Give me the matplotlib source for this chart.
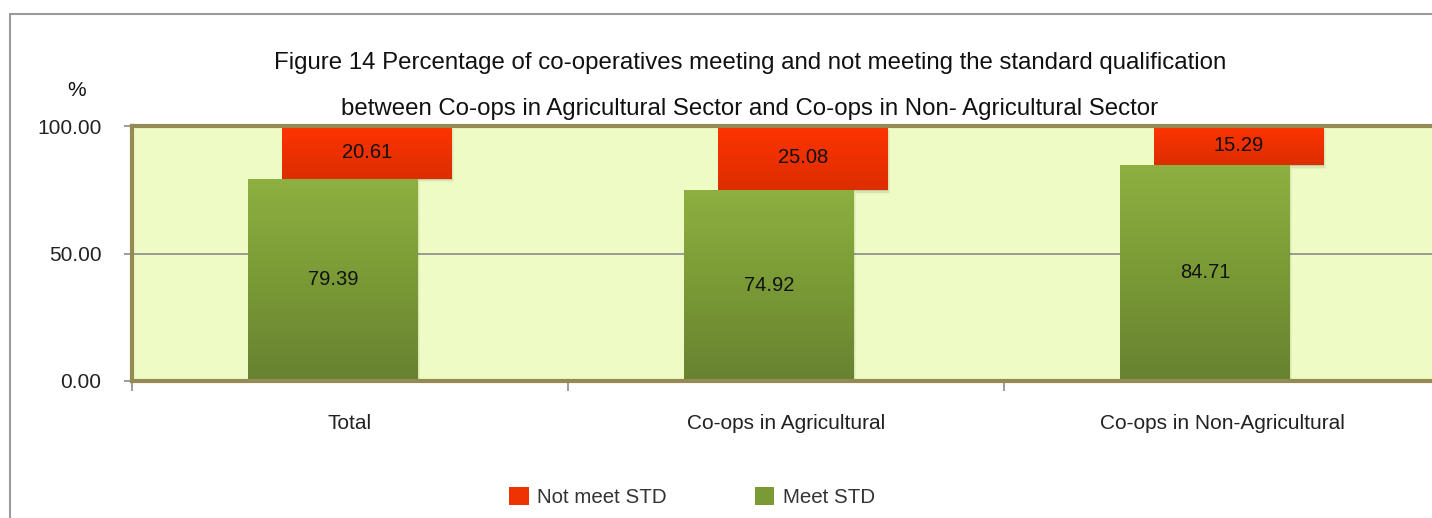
import numpy as np
import matplotlib
matplotlib.use("Agg")
import matplotlib.pyplot as plt
from matplotlib.patches import Rectangle, Patch
from matplotlib.colors import LinearSegmentedColormap

plt.rcParams['font.family'] = ['Liberation Sans', 'DejaVu Sans']

categories = ["Total", "Co-ops in Agricultural", "Co-ops in Non-Agricultural"]
meet_std = [79.39, 74.92, 84.71]
not_meet_std = [20.61, 25.08, 15.29]
series_names = ["Not meet STD", "Meet STD"]
yticks = [0, 50, 100]

W, H = 1432, 518
fig = plt.figure(figsize=(W / 100, H / 100), dpi=100)

# outer frame
fig.patches.append(Rectangle((10 / W, -0.1), 1.2, (H - 14) / H + 0.1, transform=fig.transFigure,
                             fill=False, edgecolor="#9a9a9a", linewidth=1.5))

ax = fig.add_axes([132 / W, 137 / H, 1308 / W, 255 / H])
ax.set_facecolor("#effbc4")

x = np.arange(len(categories)) + 0.5
bw = 0.388
off = 0.039

green_cmap = LinearSegmentedColormap.from_list("g", ["#688230", "#7a9a36", "#8db040"])
red_cmap = LinearSegmentedColormap.from_list("r", ["#dc2e00", "#ff3300"])

ax.yaxis.grid(True, color="#8c8c8c", linewidth=1.2, zorder=0)
ax.set_axisbelow(True)

def gradient_bars(bars, cmap):
    grad = np.linspace(0, 1, 256).reshape(-1, 1)
    for b in bars:
        x0, y0 = b.get_x(), b.get_y()
        w, h = b.get_width(), b.get_height()
        for k, a in enumerate([0.10, 0.06, 0.03]):
            sh = Rectangle((x0 + 0.002 * (k + 1), y0 - 0.5 * (k + 1)), w, h, facecolor="#000000",
                           alpha=a, edgecolor="none", zorder=b.get_zorder() - 0.5)
            ax.add_patch(sh)
        im = ax.imshow(grad, cmap=cmap, aspect="auto", origin="lower",
                       extent=[x0, x0 + w, y0, y0 + h], zorder=b.get_zorder() + 0.1)
        im.set_clip_path(b)

gbars = ax.bar(x - off, meet_std, width=bw, color="#7a9a36", zorder=3, label=series_names[1])
rbars = ax.bar(x + off, not_meet_std, width=bw, bottom=meet_std, color="#ee3300", zorder=3,
               label=series_names[0])
gradient_bars(gbars, green_cmap)
gradient_bars(rbars, red_cmap)
ax.set_xlim(0, 3)
ax.set_ylim(0, 100)

for xi, v in zip(x - off, meet_std):
    ax.text(xi, v / 2, f"{v:.2f}", ha="center", va="center", fontsize=14.5, color="#111111", zorder=6)
for xi, b, v in zip(x + off, meet_std, not_meet_std):
    ax.text(xi, b + v / 2, f"{v:.2f}", ha="center", va="center", fontsize=14.5, color="#111111", zorder=6)

for s in ["top", "left", "bottom"]:
    ax.spines[s].set_color("#948a54")
    ax.spines[s].set_linewidth(3)
    ax.spines[s].set_zorder(5)
ax.spines["right"].set_visible(False)

ax.set_yticks(yticks)
ax.set_yticklabels([f"{v:.2f}" for v in yticks], fontsize=15, color="#222222")
ax.tick_params(axis="y", length=6, width=1.2, color="#8c8c8c", pad=16)

ax.set_xticks([0, 1, 2, 3])
ax.set_xticklabels([])
ax.set_xticks(x, minor=True)
ax.set_xticklabels(categories, minor=True, fontsize=15, color="#222222")
ax.tick_params(axis="x", which="major", length=7, width=1.2, color="#8c8c8c")
ax.tick_params(axis="x", which="minor", length=0, pad=24)

fig.text(750 / W, 1 - 63 / H, "Figure 14 Percentage of co-operatives meeting and not meeting the standard qualification",
         ha="center", va="center", fontsize=17.3, color="#111111")
fig.text(750 / W, 1 - 109 / H, "between Co-ops in Agricultural Sector and Co-ops in Non- Agricultural Sector",
         ha="center", va="center", fontsize=17.3, color="#111111")
fig.text(77 / W, 1 - 90 / H, "%", ha="center", va="center", fontsize=15, color="#111111")

handles = [Patch(facecolor="#ee3300"), Patch(facecolor="#7a9a36")]
fig.legend(handles, series_names, loc="center", bbox_to_anchor=(692 / W, 1 - 497 / H), ncol=2,
           frameon=False, fontsize=14.8, handlelength=0.95, handleheight=0.95, columnspacing=4.3,
           handletextpad=0.4, labelcolor="#333333")

fig.savefig("out.png", dpi=100)
